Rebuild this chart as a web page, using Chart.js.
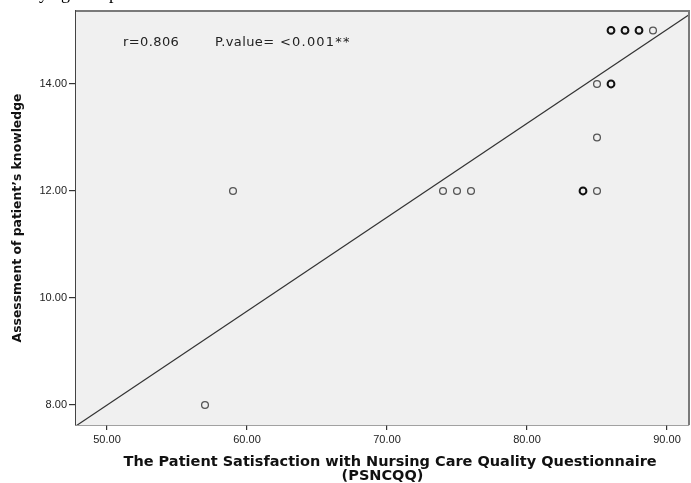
<!DOCTYPE html>
<html>
<head>
<meta charset="utf-8">
<script src="https://cdn.jsdelivr.net/npm/chart.js@4"></script>
<style>
  html, body { margin: 0; padding: 0; background: #fff; }
  #wrap { width: 691px; height: 483px; position: relative; }
</style>
</head>
<body>
<div id="wrap"><canvas id="c" width="691" height="483"></canvas></div>
<script>
// PSNCQQ score (x) vs knowledge score (y)
const psncqqScores   = [57, 59, 74, 75, 76, 84, 85, 85, 85, 86, 86, 87, 88, 89];
const knowledgeScores = [8, 12, 12, 12, 12, 12, 12, 13, 14, 14, 15, 15, 15, 15];
// overlapping cases (darker rings)
const caseCounts     = [1, 1, 1, 1, 1, 2, 1, 1, 1, 2, 2, 2, 2, 1];
const xTickValues = [50, 60, 70, 80, 90];
const yTickValues = [8, 10, 12, 14];
const fitIntercept = -0.777;
const fitSlope = 0.1755;
const xRange = [47.786, 91.571];
const yRange = [7.626, 15.364];
const annotationText = ['r=0.806', 'P.value=', '<0.001**'];

const singles = [], multiples = [];
psncqqScores.forEach((x, i) => {
  const p = { x: x, y: knowledgeScores[i] };
  (caseCounts[i] > 1 ? multiples : singles).push(p);
});
const fitLine = xRange.map(x => ({ x: x, y: fitIntercept + fitSlope * x }));

const plotDecor = {
  id: 'plotDecor',
  beforeDatasetsDraw(chart) {
    const { ctx, chartArea: a } = chart;
    ctx.save();
    ctx.fillStyle = '#f0f0f0';
    ctx.fillRect(a.left, a.top, a.right - a.left, a.bottom - a.top);
    ctx.restore();
  },
  beforeDraw(chart) {
    const { ctx } = chart;
    ctx.save();
    ctx.fillStyle = '#000';
    ctx.font = '18px "Liberation Serif"';
    ctx.textBaseline = 'alphabetic';
    ctx.fillText('y', 39, -1);
    ctx.fillText('g', 61, -1);
    ctx.fillText('p', 109, -1);
    ctx.restore();
  },
  afterDraw(chart) {
    const { ctx, chartArea: a } = chart;
    ctx.save();
    ctx.strokeStyle = '#7a7a7a';
    ctx.lineWidth = 2;
    ctx.beginPath();
    ctx.moveTo(a.left, a.top);
    ctx.lineTo(a.right, a.top);
    ctx.lineTo(a.right, a.bottom);
    ctx.stroke();
    ctx.fillStyle = '#222';
    ctx.font = '13px "DejaVu Sans"';
    if ('letterSpacing' in ctx) ctx.letterSpacing = '0.4px';
    ctx.textBaseline = 'middle';
    ctx.fillText(annotationText[0], a.left + 47, a.top + 32);
    ctx.fillText(annotationText[1], a.left + 139, a.top + 32);
    if ('letterSpacing' in ctx) ctx.letterSpacing = '1.2px';
    ctx.fillText(annotationText[2], a.left + 204, a.top + 32);
    ctx.restore();
  }
};

new Chart(document.getElementById('c'), {
  type: 'scatter',
  data: {
    datasets: [
      {
        type: 'line',
        data: fitLine,
        borderColor: '#333',
        borderWidth: 1.2,
        pointRadius: 0,
        fill: false,
        order: 3
      },
      {
        data: singles,
        pointStyle: 'circle',
        pointRadius: 3.4,
        borderWidth: 1.3,
        borderColor: '#555',
        backgroundColor: 'rgba(0,0,0,0)',
        order: 2
      },
      {
        data: multiples,
        pointStyle: 'circle',
        pointRadius: 3.4,
        borderWidth: 2,
        borderColor: '#111',
        backgroundColor: 'rgba(0,0,0,0)',
        order: 1
      }
    ]
  },
  options: {
    responsive: false,
    animation: false,
    events: [],
    layout: { autoPadding: false, padding: { top: 11, right: 2, left: 0, bottom: 0 } },
    plugins: { legend: { display: false }, tooltip: { enabled: false } },
    scales: {
      x: {
        type: 'linear',
        min: xRange[0],
        max: xRange[1],
        afterBuildTicks: s => { s.ticks = xTickValues.map(v => ({ value: v })); },
        afterFit: s => { s.height = 58; s.paddingLeft = 0; s.paddingRight = 0; },
        ticks: {
          callback: v => Number(v).toFixed(2),
          color: '#222',
          font: { family: '"Liberation Sans", Arial', size: 11 },
          padding: 3,
          maxRotation: 0,
          autoSkip: false
        },
        grid: { drawOnChartArea: false, drawTicks: true, tickLength: 5, color: '#333', lineWidth: 1.2 },
        border: { display: true, color: '#444', width: 1.5 },
        title: {
          display: true,
          text: ['   The Patient Satisfaction with Nursing Care Quality Questionnaire', '(PSNCQQ)'],
          color: '#111',
          font: { family: '"DejaVu Sans"', size: 14.5, weight: 'bold', lineHeight: 0.97 },
          padding: { top: 0, bottom: 0 }
        }
      },
      y: {
        type: 'linear',
        min: yRange[0],
        max: yRange[1],
        afterBuildTicks: s => { s.ticks = yTickValues.map(v => ({ value: v })); },
        afterFit: s => { s.width = 76; s.paddingTop = 0; s.paddingBottom = 0; },
        ticks: {
          callback: v => Number(v).toFixed(2),
          color: '#222',
          font: { family: '"Liberation Sans", Arial', size: 11 },
          padding: 2,
          autoSkip: false
        },
        grid: { drawOnChartArea: false, drawTicks: true, tickLength: 7, color: '#333', lineWidth: 1.2 },
        border: { display: true, color: '#444', width: 1.5 },
        title: {
          display: true,
          text: 'Assessment of patient\u2019s knowledge',
          color: '#111',
          font: { family: '"DejaVu Sans"', size: 12.4, weight: 'bold', lineHeight: 1.2 },
          padding: { top: 10, bottom: 0 }
        }
      }
    }
  },
  plugins: [plotDecor]
});
</script>
</body>
</html>
